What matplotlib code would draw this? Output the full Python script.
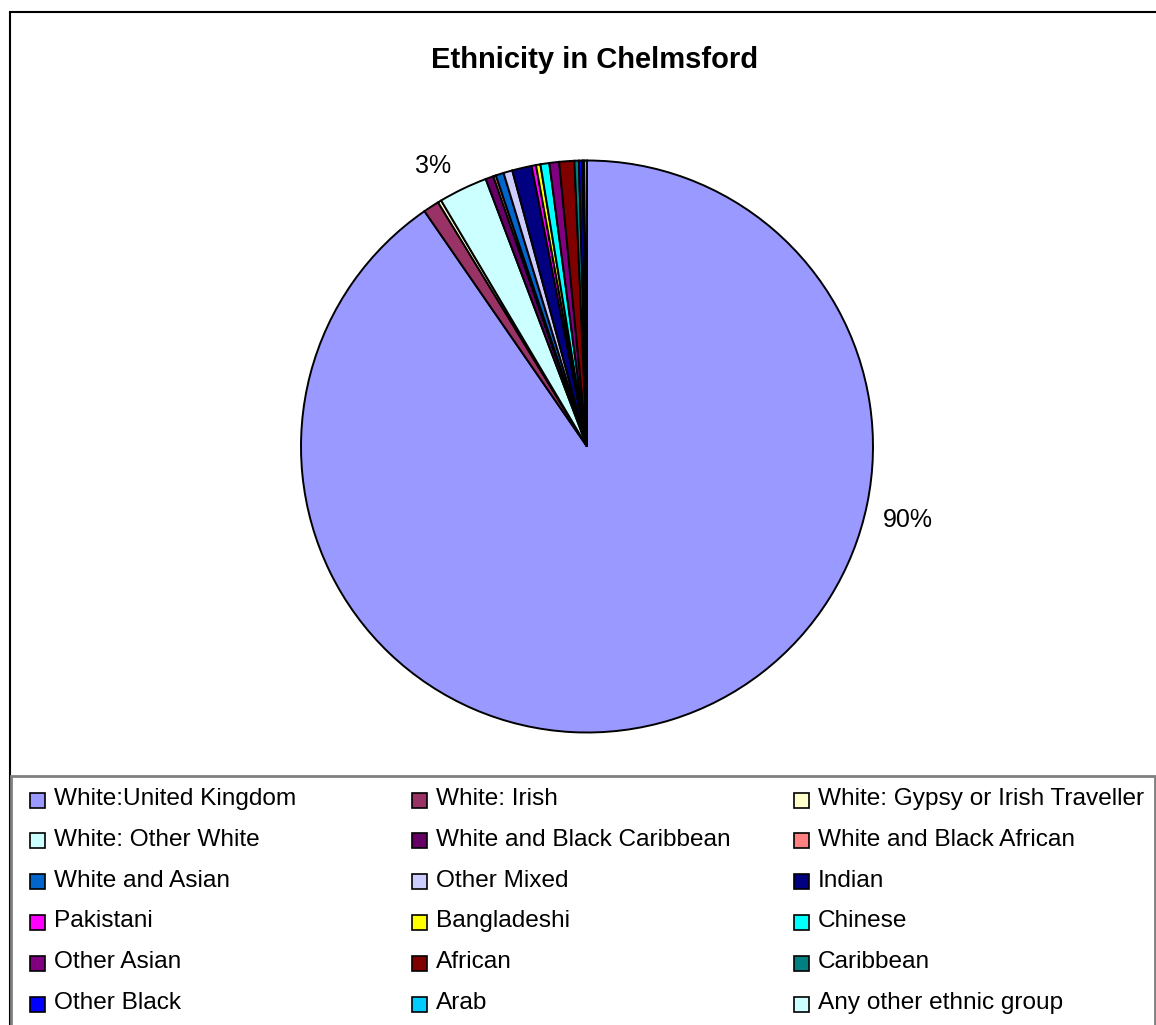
import matplotlib
matplotlib.use("Agg")
import matplotlib.pyplot as plt
from matplotlib.patches import Rectangle
import numpy as np

plt.rcParams['font.family'] = ['Liberation Sans', 'DejaVu Sans']

categories = ["White:United Kingdom", "White: Irish", "White: Gypsy or Irish Traveller",
              "White: Other White", "White and Black Caribbean", "White and Black African",
              "White and Asian", "Other Mixed", "Indian",
              "Pakistani", "Bangladeshi", "Chinese",
              "Other Asian", "African", "Caribbean",
              "Other Black", "Arab", "Any other ethnic group"]
values = [90.2, 0.9, 0.2,
          2.75, 0.45, 0.15,
          0.45, 0.5, 1.1,
          0.25, 0.25, 0.5,
          0.55, 0.85, 0.25,
          0.2, 0.1, 0.15]
colors = ["#9999FF", "#993366", "#FFFFCC",
          "#CCFFFF", "#660066", "#FF8080",
          "#0066CC", "#CCCCFF", "#000080",
          "#FF00FF", "#FFFF00", "#00FFFF",
          "#800080", "#800000", "#008080",
          "#0000FF", "#00CCFF", "#CCFFFF"]

W, H = 1156, 1025
fig = plt.figure(figsize=(W / 100, H / 100), dpi=100)

def fx(px):
    return px / W

def fy(py):
    return 1 - py / H

# outer chart border
fig.add_artist(Rectangle((fx(10), fy(1100)), fx(1200), (1100 - 12) / H,
                         transform=fig.transFigure, fill=False,
                         edgecolor="black", linewidth=1.5))

# title
fig.text(fx(595), fy(60), "Ethnicity in Chelmsford", ha="center", va="center",
         fontsize=21, fontweight="bold")

# pie
cx, cy, R = 587, 446.5, 286
ax = fig.add_axes([fx(cx - R), fy(cy + R), 2 * R / W, 2 * R / H])
wedges, _ = ax.pie(values, colors=colors, startangle=90, counterclock=False,
                   radius=1, wedgeprops=dict(edgecolor="black", linewidth=1.4))
ax.set_xlim(-1, 1)
ax.set_ylim(-1, 1)
ax.set_aspect("auto")
ax.axis("off")

total = sum(values)
for w, v in zip(wedges, values):
    pct = 100 * v / total
    if pct < 2:
        continue
    if pct > 50:
        ang = np.deg2rad(-13.0)
        r = 1.15
    else:
        ang = np.deg2rad((w.theta1 + w.theta2) / 2 + 3)
        r = 1.12
    ax.text(r * np.cos(ang), r * np.sin(ang), f"{pct:.0f}%", ha="center",
            va="center", fontsize=18, clip_on=False)

# legend box
fig.add_artist(Rectangle((fx(11), fy(1100)), fx(1155 - 11), (1100 - 776) / H,
                         transform=fig.transFigure, fill=False,
                         edgecolor="#808080", linewidth=2))

col_x = [30, 412, 794]
row_y0, row_dy = 800, 40.8
ps = 15
for i, (lab, w) in enumerate(zip(categories, wedges)):
    r, c = divmod(i, 3)
    x = col_x[c]
    y = row_y0 + r * row_dy
    fig.add_artist(Rectangle((fx(x), fy(y + ps / 2)), ps / W, ps / H,
                             transform=fig.transFigure,
                             facecolor=w.get_facecolor(), edgecolor="black",
                             linewidth=1.2))
    fig.text(fx(x + 24), fy(y - 1), lab, ha="left", va="center", fontsize=17.6)

fig.savefig("out.png", dpi=100, facecolor="white")
